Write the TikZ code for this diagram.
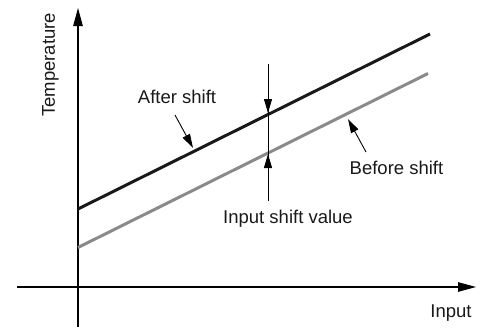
\documentclass[tikz,border=0pt]{standalone}
\usepackage{fontspec}
\setmainfont{Liberation Sans}
\usetikzlibrary{arrows.meta}
\definecolor{linegray}{RGB}{138,138,138}
\begin{document}
\begin{tikzpicture}[x=1pt,y=-1pt,
  axis/.style={line width=1.1pt,-{Triangle[length=18pt,width=9.5pt]}},
  curveblack/.style={line width=3pt,black!90},
  curvegray/.style={line width=3pt,linegray},
  pointer/.style={line width=0.9pt,-{Triangle[length=14pt,width=8pt]}},
  thinline/.style={line width=0.9pt},
  lbl/.style={font=\fontsize{18.5}{22}\selectfont,inner sep=0pt,text=black!90}]
\useasboundingbox (0,0) rectangle (485,327);
% axes
\coordinate (ybot) at (78,327);
\coordinate (ytop) at (78,8);
\coordinate (xleft) at (17,287);
\coordinate (xright) at (476,287);
\draw[axis] (ybot) -- (ytop);
\draw[axis] (xleft) -- (xright);
\node[lbl,rotate=90] (templbl) at (50.5,65) {Temperature};
\node[lbl] (inputlbl) at (451,313) {Input};
% lines
\coordinate (b0) at (78,209);
\coordinate (b1) at (430,34);
\coordinate (g0) at (78,247.5);
\coordinate (g1) at (428,73.5);
\draw[curvegray] (g0) -- (g1);
\draw[curveblack] (b0) -- (b1);
% shift indicator
\coordinate (vtop) at (268,64);
\coordinate (vtip1) at (268,113);
\coordinate (vtip2) at (268,154);
\coordinate (vbot) at (268,201);
\draw[thinline] (vtop) -- (vbot);
\draw[pointer] (vtop) -- (vtip1);
\draw[pointer] (vbot) -- (vtip2);
\node[lbl] (shiftlbl) at (288,219) {Input shift value};
% labels
\node[lbl] (afterlbl) at (177,97) {After shift};
\coordinate (afterstart) at (175,115);
\coordinate (aftertip) at (193,148);
\draw[pointer] (afterstart) -- (aftertip);
\node[lbl] (beforelbl) at (396.5,168) {Before shift};
\coordinate (beforestart) at (366,152);
\coordinate (beforetip) at (348,119);
\draw[pointer] (beforestart) -- (beforetip);
\end{tikzpicture}
\end{document}
